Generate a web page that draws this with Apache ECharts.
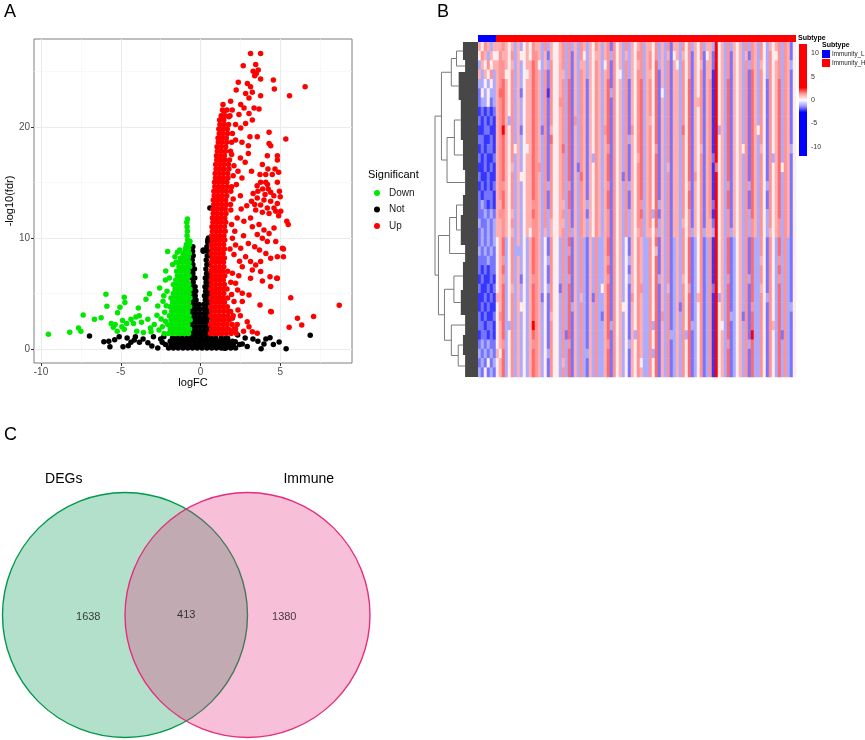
<!DOCTYPE html>
<html lang="en">
<head>
<meta charset="UTF-8">
<title>DEGs / heatmap / Venn</title>
<script src="https://cdn.jsdelivr.net/npm/echarts@6.0.0/dist/echarts.min.js"></script>
<style>
    html, body { margin: 0; padding: 0; background: #fff; }
    #main { width: 865px; height: 740px; }
</style>
</head>
<body>
<div id="main"></div>
<script type="text/javascript">
    const FONT = "'Liberation Sans', Arial, sans-serif";

    // ---------- A: volcano plot ----------
    const volXTicks = [-10, -5, 0, 5];
    const volYTicks = [0, 10, 20];
    const volXMinor = [-7.5, -2.5, 2.5, 7.5];
    const volYMinor = [5, 15, 25];

    // dense rows: [y, x1, x2, ...]
    const upCore = [
        [1.4, 0.62, 0.86, 1.1, 1.35, 1.62, 1.92, 2.25],
        [1.8, 0.7, 0.95, 1.2, 1.46, 1.75, 2.1],
        [2.2, 0.63, 0.88, 1.12, 1.4, 1.66, 1.98],
        [2.6, 0.72, 0.96, 1.22, 1.5, 1.8],
        [3.0, 0.65, 0.9, 1.15, 1.42, 1.7, 2.05],
        [3.4, 0.7, 0.94, 1.2, 1.47, 1.75],
        [3.8, 0.64, 0.9, 1.14, 1.4, 1.68],
        [4.2, 0.71, 0.97, 1.23, 1.5],
        [4.6, 0.66, 0.9, 1.16, 1.42, 1.7],
        [5.0, 0.72, 0.96, 1.2, 1.46],
        [5.4, 0.65, 0.9, 1.15, 1.4, 1.66],
        [5.8, 0.7, 0.95, 1.22, 1.5],
        [6.2, 0.67, 0.92, 1.17, 1.43],
        [6.6, 0.72, 0.98, 1.24, 1.52],
        [7.0, 0.66, 0.9, 1.15, 1.4, 1.7],
        [7.4, 0.7, 0.95, 1.2, 1.46],
        [7.8, 0.68, 0.93, 1.18, 1.44],
        [8.2, 0.73, 0.98, 1.24, 1.5],
        [8.6, 0.67, 0.92, 1.17, 1.42],
        [9.0, 0.72, 0.97, 1.22, 1.5],
        [9.4, 0.68, 0.93, 1.18, 1.45],
        [9.8, 0.74, 0.99, 1.25, 1.52],
        [10.2, 0.7, 0.95, 1.2, 1.47],
        [10.6, 0.75, 1.0, 1.26, 1.55],
        [11.0, 0.72, 0.97, 1.22, 1.5],
        [11.4, 0.78, 1.03, 1.3, 1.58],
        [11.8, 0.75, 1.0, 1.25, 1.52],
        [12.2, 0.8, 1.05, 1.32, 1.6],
        [12.6, 0.78, 1.03, 1.28, 1.55],
        [13.0, 0.83, 1.08, 1.35, 1.62, 1.88],
        [13.4, 0.8, 1.05, 1.3, 1.58],
        [13.8, 0.86, 1.1, 1.36, 1.65],
        [14.2, 0.84, 1.09, 1.34, 1.6],
        [14.6, 0.9, 1.15, 1.4, 1.68, 1.95],
        [15.0, 0.88, 1.12, 1.38, 1.65],
        [15.4, 0.94, 1.18, 1.44, 1.72],
        [15.8, 0.92, 1.17, 1.42, 1.7],
        [16.2, 0.98, 1.22, 1.48, 1.78],
        [16.6, 0.95, 1.2, 1.46, 1.75],
        [17.0, 1.02, 1.27, 1.52, 1.82],
        [17.4, 1.0, 1.25, 1.5],
        [17.8, 1.06, 1.3, 1.56, 1.88],
        [18.2, 1.04, 1.3, 1.58],
        [18.6, 1.12, 1.36, 1.64, 1.95],
        [19.0, 1.1, 1.35, 1.62],
        [19.4, 1.18, 1.42, 1.7, 2.0],
        [19.8, 1.15, 1.4, 1.68],
        [20.2, 1.22, 1.48, 1.76],
        [20.6, 1.2, 1.46],
        [21.0, 1.3, 1.56, 1.85],
        [21.5, 1.38, 1.66]
    ];
    const upPts = [
        [3.14, 26.6], [3.77, 26.6], [2.68, 25.5], [3.46, 25.6], [3.3, 25.0], [3.5, 24.8], [3.62, 25.1], [3.4, 24.6],
        [3.77, 24.3], [4.57, 24.2], [4.63, 23.4], [6.56, 23.6], [5.58, 22.8], [2.37, 24.0], [2.94, 23.9], [3.14, 23.6],
        [2.24, 23.3], [2.83, 23.0], [3.25, 23.1], [3.04, 22.6], [3.77, 22.8], [1.41, 22.0], [1.89, 22.3], [2.52, 22.0],
        [1.47, 21.4], [1.99, 21.5], [2.73, 21.7], [3.36, 21.7], [3.67, 21.6], [3.04, 21.2], [2.41, 21.1], [1.78, 20.9],
        [3.25, 20.6], [2.83, 20.3], [4.3, 19.5], [3.56, 19.1], [5.35, 18.9], [3.1, 19.1], [2.52, 19.9], [2.2, 20.2],
        [4.3, 18.5], [4.4, 18.3], [3.0, 18.3], [2.6, 18.6], [4.82, 17.4], [4.82, 17.0], [4.19, 17.4], [3.88, 16.6],
        [4.23, 16.2], [4.67, 16.2], [3.73, 15.7], [4.09, 15.7], [4.5, 15.7], [4.9, 15.9], [3.77, 15.0], [4.09, 15.0],
        [4.82, 15.0], [3.55, 14.7], [3.9, 14.4], [4.25, 14.4], [4.4, 14.1], [4.95, 14.2], [2.5, 17.2], [2.8, 16.8],
        [3.0, 17.6], [2.35, 16.0], [2.6, 15.4], [3.2, 16.0], [2.2, 18.8], [1.95, 17.5], [2.1, 16.5], [2.25, 14.8],
        [2.5, 13.8], [2.05, 13.5], [3.56, 13.6], [3.98, 13.4], [4.4, 13.3], [4.82, 13.1], [3.77, 12.97], [4.19, 12.7],
        [4.61, 12.7], [5.03, 12.4], [3.46, 12.5], [3.88, 12.3], [4.3, 12.2], [4.72, 12.4], [5.41, 11.5], [5.5, 11.2],
        [2.72, 11.5], [3.14, 11.8], [3.25, 11.0], [3.67, 11.2], [3.98, 10.7], [4.3, 10.4], [4.61, 10.9], [3.56, 10.3],
        [3.88, 9.97], [4.19, 9.67], [4.72, 9.67], [5.14, 9.07], [5.2, 8.3], [4.82, 8.3], [4.4, 8.17], [4.1, 8.6],
        [3.77, 7.87], [3.46, 7.57], [3.14, 7.87], [2.83, 8.3], [2.52, 9.07], [2.2, 9.37], [2.0, 9.97], [2.1, 8.5],
        [2.45, 7.9], [2.62, 7.4], [3.25, 7.1], [3.14, 6.37], [3.77, 6.97], [3.88, 6.13], [4.36, 6.5], [4.82, 6.37],
        [4.4, 5.62], [2.0, 6.82], [2.2, 5.92], [2.33, 5.32], [2.62, 5.02], [3.04, 4.87], [2.62, 4.27], [2.1, 4.27],
        [2.35, 3.52], [1.89, 3.37], [2.0, 2.77], [2.5, 3.0], [2.93, 2.46], [3.04, 2.0], [3.25, 1.56], [3.56, 1.41],
        [3.73, 3.97], [4.4, 3.37], [5.66, 4.62], [6.08, 2.77], [6.35, 2.17], [7.09, 2.92], [5.56, 1.95], [8.7, 3.93],
        [2.7, 1.6], [2.3, 2.2], [2.55, 12.6], [2.9, 12.9], [3.2, 13.3], [2.3, 11.8], [1.95, 11.2], [2.15, 10.6],
        [2.7, 10.2], [3.0, 9.5], [3.4, 9.2], [3.7, 8.9], [1.9, 12.5], [5.2, 9.0], [3.3, 14.0], [3.6, 14.2],
        [4.05, 13.9], [4.6, 13.8], [4.2, 14.8], [3.4, 13.0], [4.9, 12.0], [5.0, 13.7], [4.44, 3.36], [4.78, 6.37],
        [2.05, 15.6], [1.9, 14.2], [1.85, 9.0], [1.9, 6.0], [1.95, 4.9], [2.4, 6.6], [2.2, 1.8], [1.95, 1.6]
    ];

    const downCore = [
        [1.4, -2.0, -1.75, -1.5, -1.25, -1.0, -0.75],
        [1.8, -1.9, -1.65, -1.4, -1.15, -0.9, -0.68],
        [2.2, -2.05, -1.8, -1.55, -1.3, -1.05, -0.8],
        [2.6, -1.85, -1.6, -1.35, -1.1, -0.85, -0.65],
        [3.0, -1.95, -1.7, -1.45, -1.2, -0.95, -0.72],
        [3.4, -1.8, -1.55, -1.3, -1.05, -0.8],
        [3.8, -1.9, -1.65, -1.4, -1.15, -0.9, -0.68],
        [4.2, -1.75, -1.5, -1.25, -1.0, -0.76],
        [4.6, -1.85, -1.6, -1.35, -1.1, -0.85, -0.66],
        [5.0, -1.7, -1.45, -1.2, -0.95, -0.72],
        [5.4, -1.6, -1.35, -1.1, -0.86, -0.66],
        [5.8, -1.7, -1.45, -1.2, -0.95, -0.74],
        [6.2, -1.55, -1.3, -1.05, -0.82],
        [6.6, -1.45, -1.2, -0.95, -0.72],
        [7.0, -1.5, -1.25, -1.0, -0.78],
        [7.4, -1.35, -1.1, -0.86, -0.68],
        [7.8, -1.4, -1.15, -0.9, -0.72],
        [8.2, -1.25, -1.0, -0.78],
        [8.6, -1.1, -0.88, -0.7],
        [9.0, -0.95, -0.75],
        [9.4, -0.88, -0.68],
        [9.8, -0.8],
        [10.2, -0.84],
        [10.6, -0.82],
        [11.0, -0.84],
        [11.4, -0.86],
        [11.7, -0.82]
    ];
    const downPts = [
        [-9.54, 1.32], [-8.2, 1.5], [-7.65, 1.89], [-7.5, 1.59], [-7.36, 3.06], [-6.65, 2.67], [-6.23, 2.82],
        [-5.93, 4.93], [-5.87, 3.85], [-5.47, 1.95], [-5.2, 3.27], [-5.05, 3.75], [-4.93, 2.01], [-4.78, 4.65],
        [-4.74, 4.19], [-4.89, 2.57], [-5.22, 1.59], [-4.63, 2.3], [-4.78, 1.78], [-4.36, 2.67], [-4.2, 2.3],
        [-4.05, 2.87], [-3.84, 3.0], [-3.7, 2.4], [-3.58, 1.48], [-3.46, 6.57], [-3.42, 4.47], [-3.2, 4.98],
        [-3.3, 2.67], [-3.14, 1.89], [-3.1, 1.56], [-2.73, 3.03], [-2.68, 3.87], [-2.56, 5.5], [-2.47, 2.7],
        [-2.2, 6.2], [-2.18, 7.03], [-2.06, 8.77], [-2.39, 2.0], [-2.28, 1.4], [-5.6, 2.3], [-5.35, 2.2],
        [-4.0, 1.6], [-3.9, 3.7], [-2.9, 2.2], [-2.6, 1.7], [-2.35, 4.3], [-2.25, 3.3], [-2.2, 2.5],
        [-1.75, 7.6], [-1.6, 8.3], [-1.45, 8.7], [-1.3, 8.9], [-1.53, 7.8], [-0.9, 9.2], [-0.66, 9.7],
        [-2.1, 5.2], [-2.3, 4.8], [-1.95, 6.4], [-2.15, 3.9]
    ];

    const notCore = [
        [0.1, -2.0, -1.7, -1.4, -1.1, -0.8, -0.5, -0.2, 0.1, 0.4, 0.7, 1.0, 1.3, 1.6, 1.9, 2.2],
        [0.4, -2.2, -1.85, -1.55, -1.25, -0.95, -0.65, -0.35, -0.05, 0.25, 0.55, 0.85, 1.15, 1.45, 1.75, 2.05, 2.45],
        [0.7, -1.9, -1.6, -1.3, -1.0, -0.7, -0.4, -0.1, 0.2, 0.5, 0.8, 1.1, 1.4, 1.7, 2.0],
        [1.0, -1.75, -1.45, -1.15, -0.85, -0.55, -0.25, 0.05, 0.35, 0.65, 0.95, 1.3, 1.6],
        [1.3, -0.6, -0.3, 0.0, 0.3, 0.55],
        [1.6, -0.55, -0.3, -0.05, 0.2, 0.45],
        [2.0, -0.5, -0.25, 0.0, 0.25, 0.5],
        [2.4, -0.56, -0.32, -0.08, 0.16, 0.4],
        [2.8, -0.48, -0.22, 0.04, 0.3, 0.52],
        [3.2, -0.55, -0.3, -0.05, 0.22, 0.46],
        [3.6, -0.5, -0.26, 0.0, 0.28, 0.5],
        [4.0, -0.56, -0.32, -0.1, 0.2, 0.44],
        [4.4, -0.5, -0.28, 0.3, 0.52],
        [4.8, -0.55, -0.33, 0.25, 0.47],
        [5.2, -0.48, -0.3, 0.32, 0.54],
        [5.6, -0.52, -0.34, 0.28, 0.5],
        [6.0, -0.46, 0.35, 0.55],
        [6.4, -0.52, -0.36, 0.3, 0.5],
        [6.8, -0.48, 0.38, 0.56],
        [7.2, -0.54, -0.38, 0.34],
        [7.6, -0.48, 0.4, 0.55],
        [8.0, -0.52, 0.36],
        [8.4, -0.46, 0.42, 0.56],
        [8.8, -0.5, 0.17, 0.45],
        [9.2, -0.48, 0.4],
        [9.6, 0.46],
        [10.0, 0.5]
    ];
    const notPts = [
        [-6.96, 1.17], [-6.06, 0.66], [-5.75, 0.7], [-5.68, 0.2], [-5.38, 0.83], [-5.1, 1.1], [-4.86, 0.2],
        [-4.53, 0.3], [-4.36, 0.6], [-4.15, 0.8], [-4.08, 1.1], [-3.83, 0.6], [-3.3, 0.57], [-3.05, 0.27],
        [-2.95, 1.1], [-2.68, 0.1], [-2.5, 0.9], [-2.3, 1.1], [-2.4, 0.6], [-3.6, 0.9], [-4.6, 1.0],
        [6.88, 1.23], [5.37, 0.03], [4.93, 0.63], [4.36, 1.02], [4.57, 0.4], [3.8, 0.03], [3.98, 0.45],
        [3.29, 0.9], [2.93, 0.22], [2.62, 0.45], [2.18, 0.66], [2.33, 1.26], [1.9, 0.2], [1.5, 0.06],
        [1.7, 0.96], [3.6, 0.7], [2.8, 1.0], [4.1, 0.9], [0.59, 12.7], [0.46, 9.8], [0.17, 8.9], [-0.52, 6.8]
    ];

    // ---------- B: heatmap ----------
    const subtypeNames = ['Immunity_L', 'Immunity_H'];
    const subtypeSizes = [6, 100];
    const keyTicks = [10, 5, 0, -5, -10];
    // one char per cell: 0 strong blue .. 4 near white .. 8 strong red
    const heatLevels = {'0': -4, '1': -2.2, '2': -1.65, '3': -1.1, '4': 0.25, '5': 1.05, '6': 1.4, '7': 1.75, '8': 4};
    const heatRows = [
        '546535 5565453534 5465536354 4563635365 3546535626 4536354563 5546353625 5364635463 5538453635 4536365364 3545636524',
        '465354 4655463544 5466535254 4563625364 3545535636 4535354663 5646353524 5354625462 4528453625 4535265364 3644636524',
        '354645 5665453534 5576435364 4563625355 3546534626 4536354563 5647353625 4364625452 5528453625 4536365354 3645636534',
        '535463 5664463534 4576536264 4553625365 3546535626 4436354663 5547253625 5364625462 5518453625 4536275364 3645636524',
        '334343 5675463534 5576536264 4563725365 2546535726 4536254673 5647253625 5364725462 5618453725 4536275364 2645736524',
        '243433 5775463524 5576536164 4563725365 2546535736 4536254673 5647243625 5364725462 5618453725 4536275364 2645736524',
        '233423 5675463534 5576536264 4663725365 2546535726 4536254673 5647253625 5364725562 5618453725 4536275364 2645736524',
        '121212 5675463534 5576536264 4563725365 2546535726 4536254673 5647253625 5364725462 5618453725 4536275364 2645736524',
        '212121 5675363534 5576536264 4563726365 2546535726 4536254673 5547253625 5364725462 5618453725 4536275364 2645736524',
        '112211 5685463524 5576526254 4563725365 2546536726 4536264673 5647253625 5374725462 5618353725 4536275464 2645736524',
        '221121 5675463534 5576536274 4563725365 2546535726 4536354673 5647253625 5364725462 5618453725 4536275364 2645736524',
        '121221 5675464534 4576536264 4573725365 2546535626 4536254673 5646253625 5364725452 5618453725 4546275354 2645736534',
        '212112 5675463534 5576536264 4563725365 2536535726 4536254573 5647253625 5364725462 5628453725 4536275364 2635736524',
        '112121 5675453534 5576636264 4563725265 2546535726 4536254673 5647253525 5364725462 5617453725 4536275364 2645746524',
        '211211 5675463544 5576536264 4563725375 2546535726 4526254673 5647253625 5364726462 5618453725 4536275364 2645736524',
        '121212 5665463534 5576536364 4563625365 2546535626 4536354673 5647253625 5364625462 5618453625 4536375364 3645736524',
        '212221 5675463534 5576536264 4563725365 2546535726 4536254673 5647253625 5364725462 5618453725 4536275364 2645736524',
        '232121 5575463534 5566536264 4553725365 3546535726 4536254663 5647353625 5364725462 5628453725 4536275364 2645736524',
        '223232 5665453534 5576536364 4563625365 2546535626 4536354673 5637253625 5364625462 5618453625 4536375364 3645736524',
        '322323 5565463534 5566536354 4553625365 3546535626 4536354663 5647353625 5354625462 5528453625 4536365364 3645636524',
        '232323 5565453534 5466535354 4563635365 3546535626 4536354563 5546353625 5364635463 5538453635 4536365364 3545636524',
        '232323 4573463534 3576534264 4363725363 2536335726 4534254653 3647253623 5364723462 3618453723 4536273364 2643736324',
        '323232 4573463334 3576534264 4363625363 2536335726 4534254653 3645253623 5364723462 3618453723 4536273364 2643736324',
        '222322 4563463534 3576534364 4363725363 2536335626 4534354653 3647253623 5364723462 3618453723 4536273354 2643636324',
        '212122 4573463534 3576534264 4363725363 2536335726 4534254653 3647253623 5364723462 3618453723 4536273364 2643736324',
        '121121 4563463524 3566534264 4363625363 2536335626 4534354653 3647353623 5354723462 3618453623 4536373364 2643636324',
        '211212 4573453534 3576534364 4263725363 2536345726 4534254663 3647253523 5364623462 3628453723 4536273354 2643736324',
        '112121 5573463534 3576524264 4363725353 2526335726 4534264653 3647253623 5364723562 3618353723 4536273364 3643736324',
        '121211 4573463544 3576534264 4363735363 2536335726 4544254653 3647253623 5264723462 3618453723 4536263364 2643736334',
        '212112 4673463534 3576534254 4363725363 2536325726 4534254653 3647263623 5364723462 3618453733 4526273364 2643736324',
        '221221 4573363534 3586534264 4363725363 2536335736 4534254653 3637253623 5364733462 3618443723 4536273364 2653736324',
        '122121 4573463534 3576534264 4362725363 2536335726 4534253653 3647253633 5363723462 3618453723 4536283364 2643726324',
        '232322 4563463534 3566534264 4363625363 2536335626 4534354653 3647253623 5364723462 3618453623 4536373364 2643736324',
        '323232 5473463534 3576534364 4363725363 3536335726 4534254653 3637253623 5364723462 3618453723 4536273364 2643736324',
        '232423 4573463534 3576534264 4353725363 2536335726 4534254643 3647253623 5364723462 3618453723 4536273364 2643736324',
        '324232 4573463534 3576534264 4363725363 2536335726 4534254653 3647253623 5364723462 3618453723 4536273364 2643736324'
    ];
    // row dendrogram: leaf clusters (rows, inner height) and merge tree [height, left, right]
    const dendroLeafRows = [18, 12, 28, 40, 30, 25, 20, 30, 17, 28, 25, 20, 20, 22];
    const dendroLeafHeight = [0.35, 0.3, 0.45, 0.4, 0.35, 0.3, 0.35, 0.4, 0.3, 0.35, 0.4, 0.3, 0.35, 0.3];
    const dendroTree = [1.0,
        [0.85, [0.62, [0.5, 0, 1], 2], [0.72, [0.55, 3, 4], 5]],
        [0.92, [0.66, [0.5, 6, 7], 8], [0.78, [0.56, 9, 10], [0.62, 11, [0.46, 12, 13]]]]];

    // ---------- C: Venn ----------
    const vennSetNames = ['DEGs', 'Immune'];
    const vennCounts = [1638, 413, 1380];

    // ---------- build ----------
    function fromRows(rows) {
        const pts = [];
        rows.forEach((r) => {
            for (let i = 1; i < r.length; i++) pts.push([r[i], r[0]]);
        });
        return pts;
    }

    const heatColors = ['#0000FF', '#0000FF', '#0000FF', '#0000FF', '#0000FF', '#0000FF', '#0000FF', '#0000FF',
        '#9A9AFF', '#FFFFFF', '#FF9A9A',
        '#FF0000', '#FF0000', '#FF0000', '#FF0000', '#FF0000', '#FF0000', '#FF0000', '#FF0000'];
    const heatCells = heatRows.map((r) => r.replace(/\s/g, ''));
    const nHeatCols = subtypeSizes.reduce((a, b) => a + b);
    const heatData = [];
    heatCells.forEach((row, ri) => {
        for (let c = 0; c < nHeatCols; c++) heatData.push([c, ri, heatLevels[row[c] || '4']]);
    });

    const keyTop = 44, keyHeight = 112, keyMin = -12, keyMax = 12;
    const keyStops = heatColors.map((c, i) => ({offset: i / (heatColors.length - 1), color: heatColors[heatColors.length - 1 - i]}));

    // venn layout (radius units)
    const vennCenterX = [0, 1];
    const vennColors = ['#02984E', '#E42D7D'];
    const vennFill = ['rgba(2,152,78,0.3)', 'rgba(228,45,125,0.3)'];
    const vennNamePos = [[-0.5, 1.11], [1.5, 1.11]];
    const vennCountPos = [[-0.3, -0.02], [0.5, 0.0], [1.3, -0.02]];

    function renderDendro(params, api) {
        let cursor = 0;
        const kids = [];
        function walk(node) {
            if (typeof node === 'number') {
                const y0 = cursor;
                cursor += dendroLeafRows[node];
                const h = dendroLeafHeight[node];
                const a = api.coord([h, y0]), b = api.coord([0, cursor]);
                kids.push({type: 'rect', shape: {x: a[0], y: a[1], width: b[0] - a[0], height: b[1] - a[1]},
                    style: {fill: '#474747'}});
                return {y: (y0 + cursor) / 2, h: h};
            }
            const l = walk(node[1]), r = walk(node[2]);
            const pts = [[l.h, l.y], [node[0], l.y], [node[0], r.y], [r.h, r.y]].map((p) => api.coord(p));
            kids.push({type: 'polyline', shape: {points: pts}, style: {stroke: '#7a7a7a', lineWidth: 1, fill: 'none'}});
            return {y: (l.y + r.y) / 2, h: node[0]};
        }
        walk(dendroTree);
        return {type: 'group', children: kids};
    }

    function renderVenn(params, api) {
        const i = api.value(0);
        const c = api.coord([vennCenterX[i], 0]);
        const r = api.size([1, 1])[0];
        const t = api.coord(vennNamePos[i]);
        return {
            type: 'group', children: [
                {type: 'circle', shape: {cx: c[0], cy: c[1], r: r},
                    style: {fill: vennFill[i], stroke: vennColors[i], lineWidth: 1.4}},
                {type: 'text', x: t[0], y: t[1],
                    style: {text: vennSetNames[i], fontSize: 14, fontFamily: FONT, fill: '#000', align: 'center', verticalAlign: 'middle'}}
            ]
        };
    }

    const gridLineData = [].concat(
        volXMinor.map((v) => ({xAxis: v, lineStyle: {color: '#F3F3F3', width: 0.6, type: 'solid'}})),
        volYMinor.map((v) => ({yAxis: v, lineStyle: {color: '#F3F3F3', width: 0.6, type: 'solid'}})),
        volXTicks.map((v) => ({xAxis: v, lineStyle: {color: '#EBEBEB', width: 1.1, type: 'solid'}})),
        volYTicks.map((v) => ({yAxis: v, lineStyle: {color: '#EBEBEB', width: 1.1, type: 'solid'}}))
    );

    const graphics = [
        {type: 'text', left: 4, top: 3, style: {text: 'A', fontSize: 18, fontFamily: FONT, fill: '#000'}},
        {type: 'text', left: 437, top: 3, style: {text: 'B', fontSize: 18, fontFamily: FONT, fill: '#000'}},
        {type: 'text', left: 4, top: 426, style: {text: 'C', fontSize: 18, fontFamily: FONT, fill: '#000'}},
        {type: 'text', left: 368, top: 169, style: {text: 'Significant', fontSize: 11, fontFamily: FONT, fill: '#000'}},
        {type: 'text', left: 822, top: 42, style: {text: 'Subtype', fontSize: 7, fontWeight: 'bold', fontFamily: FONT, fill: '#000'}},
        {type: 'rect', shape: {x: 799, y: keyTop, width: 8, height: keyHeight},
            style: {fill: new echarts.graphic.LinearGradient(0, 0, 0, 1, keyStops)}}
    ];
    keyTicks.forEach((v) => {
        graphics.push({type: 'text', x: 811, y: keyTop + (keyMax - v) / (keyMax - keyMin) * keyHeight,
            style: {text: String(v), fontSize: 7, fontFamily: FONT, fill: '#333', verticalAlign: 'middle'}});
    });

    const scatterBase = {type: 'scatter', xAxisIndex: 0, yAxisIndex: 0, symbolSize: 5.5, silent: true, z: 3};

    const option = {
        animation: false,
        backgroundColor: '#fff',
        textStyle: {fontFamily: FONT},
        graphic: graphics,
        grid: [
            {left: 34, top: 39, width: 318, height: 324, show: true, borderColor: '#7f7f7f', borderWidth: 1, backgroundColor: '#fff'},
            {left: 478, top: 35, width: 318, height: 7},
            {left: 478, top: 42, width: 318, height: 335},
            {left: 435, top: 42, width: 43, height: 335},
            {left: 2.5, top: 492.5, width: 367.5, height: 245}
        ],
        xAxis: [
            {gridIndex: 0, type: 'value', min: -10.44, max: 9.5, position: 'bottom',
                axisLine: {show: false, onZero: false}, splitLine: {show: false},
                axisTick: {show: true, customValues: volXTicks, length: 3, lineStyle: {color: '#333'}},
                axisLabel: {customValues: volXTicks, fontSize: 10, color: '#4d4d4d', margin: 4},
                name: 'logFC', nameLocation: 'middle', nameGap: 14, nameTextStyle: {fontSize: 11, color: '#000'}},
            {gridIndex: 1, type: 'value', min: 0, max: nHeatCols, show: false},
            {gridIndex: 2, type: 'category', data: heatData.slice(0, nHeatCols).map((d) => d[0]), show: false},
            {gridIndex: 3, type: 'value', min: 0, max: 1, inverse: true, show: false},
            {gridIndex: 4, type: 'value', min: -1, max: 2, show: false}
        ],
        yAxis: [
            {gridIndex: 0, type: 'value', min: -1.26, max: 27.9, position: 'left',
                axisLine: {show: false, onZero: false}, splitLine: {show: false},
                axisTick: {show: true, customValues: volYTicks, length: 3, lineStyle: {color: '#333'}},
                axisLabel: {customValues: volYTicks, fontSize: 10, color: '#4d4d4d', margin: 4},
                name: '-log10(fdr)', nameLocation: 'middle', nameGap: 15, nameTextStyle: {fontSize: 11, color: '#000'}},
            {gridIndex: 1, type: 'category', data: ['Subtype'], position: 'right',
                axisLine: {show: false}, axisTick: {show: false},
                axisLabel: {fontSize: 7, fontWeight: 'bold', color: '#000', margin: 2}},
            {gridIndex: 2, type: 'category', data: heatCells.map((r, i) => i), inverse: true, show: false},
            {gridIndex: 3, type: 'value', min: 0, max: dendroLeafRows.reduce((a, b) => a + b), inverse: true, show: false},
            {gridIndex: 4, type: 'value', min: -1, max: 1, show: false}
        ],
        legend: [
            {data: ['Down', 'Not', 'Up'], left: 374, top: 187, orient: 'vertical', icon: 'circle', padding: 0,
                itemWidth: 6, itemHeight: 6, itemGap: 4.5, selectedMode: false,
                textStyle: {fontSize: 10, color: '#1a1a1a', lineHeight: 12, padding: [0, 0, 0, 4]}},
            {data: subtypeNames, left: 822, top: 50, orient: 'vertical', icon: 'rect', padding: 0,
                itemWidth: 8, itemHeight: 8, itemGap: 1, selectedMode: false,
                textStyle: {fontSize: 6.3, color: '#222', lineHeight: 8, padding: [0, 0, 0, -3]}}
        ],
        visualMap: [
            {type: 'continuous', show: false, seriesIndex: 6, min: keyMin, max: keyMax, inRange: {color: heatColors}}
        ],
        series: [
            {type: 'scatter', xAxisIndex: 0, yAxisIndex: 0, data: [], silent: true, z: 0,
                markLine: {silent: true, z: 0, symbol: 'none', animation: false, label: {show: false},
                    emphasis: {disabled: true}, data: gridLineData}},
            Object.assign({}, scatterBase, {name: 'Not', data: fromRows(notCore).concat(notPts), itemStyle: {color: '#000000', opacity: 1}}),
            Object.assign({}, scatterBase, {name: 'Down', data: fromRows(downCore).concat(downPts), itemStyle: {color: '#00E800', opacity: 1}}),
            Object.assign({}, scatterBase, {name: 'Up', data: fromRows(upCore).concat(upPts), itemStyle: {color: '#FF0000', opacity: 1}}),
            {type: 'bar', name: subtypeNames[0], xAxisIndex: 1, yAxisIndex: 1, stack: 'sub', barWidth: '100%',
                data: [subtypeSizes[0]], itemStyle: {color: '#0000FF'}, silent: true},
            {type: 'bar', name: subtypeNames[1], xAxisIndex: 1, yAxisIndex: 1, stack: 'sub', barWidth: '100%',
                data: [subtypeSizes[1]], itemStyle: {color: '#FF0000'}, silent: true},
            {type: 'heatmap', xAxisIndex: 2, yAxisIndex: 2, data: heatData, progressive: 0, silent: true},
            {type: 'custom', xAxisIndex: 3, yAxisIndex: 3, data: [[0, 0]], silent: true, renderItem: renderDendro},
            {type: 'custom', xAxisIndex: 4, yAxisIndex: 4, data: vennSetNames.map((n, i) => [i, 0]), silent: true, renderItem: renderVenn},
            {type: 'scatter', xAxisIndex: 4, yAxisIndex: 4, symbolSize: 1, silent: true, z: 5,
                itemStyle: {color: 'rgba(0,0,0,0)'},
                data: vennCounts.map((c, i) => [vennCountPos[i][0], vennCountPos[i][1], c]),
                label: {show: true, position: 'inside', fontSize: 11, color: '#111', formatter: (p) => String(p.value[2])}}
        ]
    };

    const chart = echarts.init(document.getElementById('main'));
    chart.setOption(option);
</script>
</body>
</html>
